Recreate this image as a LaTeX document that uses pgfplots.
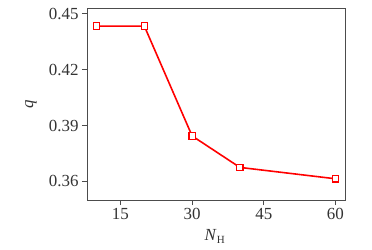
\documentclass[border=0pt]{standalone}
\usepackage{fontspec}
\setmainfont{Liberation Serif}
\usepackage{pgfplots}
\pgfplotsset{compat=1.18}
\begin{document}
\begin{tikzpicture}[x=1bp,y=1bp]
\path[use as bounding box] (-87bp,-50bp) rectangle (285bp,200bp);
\begin{axis}[
  at={(0,0)}, anchor=south west,
  scale only axis, width=258bp, height=192bp,
  xmin=8, xmax=62, ymin=0.3500, ymax=0.4531,
  xtick={15,30,45,60}, ytick={0.36,0.39,0.42,0.45},
  axis line style={draw=black!70, line width=0.8pt},
  tick style={draw=black!70, line width=0.8pt},
  tick align=outside, major tick length=5bp,
  xtick pos=bottom, ytick pos=left,
  ticklabel style={font=\fontsize{17}{20}\selectfont, text=black!80},
  /pgf/number format/assume math mode=true,
  yticklabel style={/pgf/number format/.cd,fixed,precision=2,fixed zerofill},
  xlabel={\fontsize{17}{20}\selectfont\textit{N}\textsubscript{\fontsize{11}{13}\selectfont H}},
  ylabel={\fontsize{17}{20}\selectfont\textit{q}},
  xlabel style={at={(axis description cs:0.496,-0.19)}, anchor=center, text=black!80},
  ylabel style={at={(axis description cs:-0.217,0.5)}, anchor=center, text=black!80},
]
\addplot[draw=red, line width=1.6pt, mark=square*, mark size=3.2bp,
  mark options={fill=white, draw=red, line width=1.2pt}]
  coordinates {(10,0.4434) (20,0.4434) (30,0.3844) (40,0.3675) (60,0.3614)};
\end{axis}
\end{tikzpicture}
\end{document}
